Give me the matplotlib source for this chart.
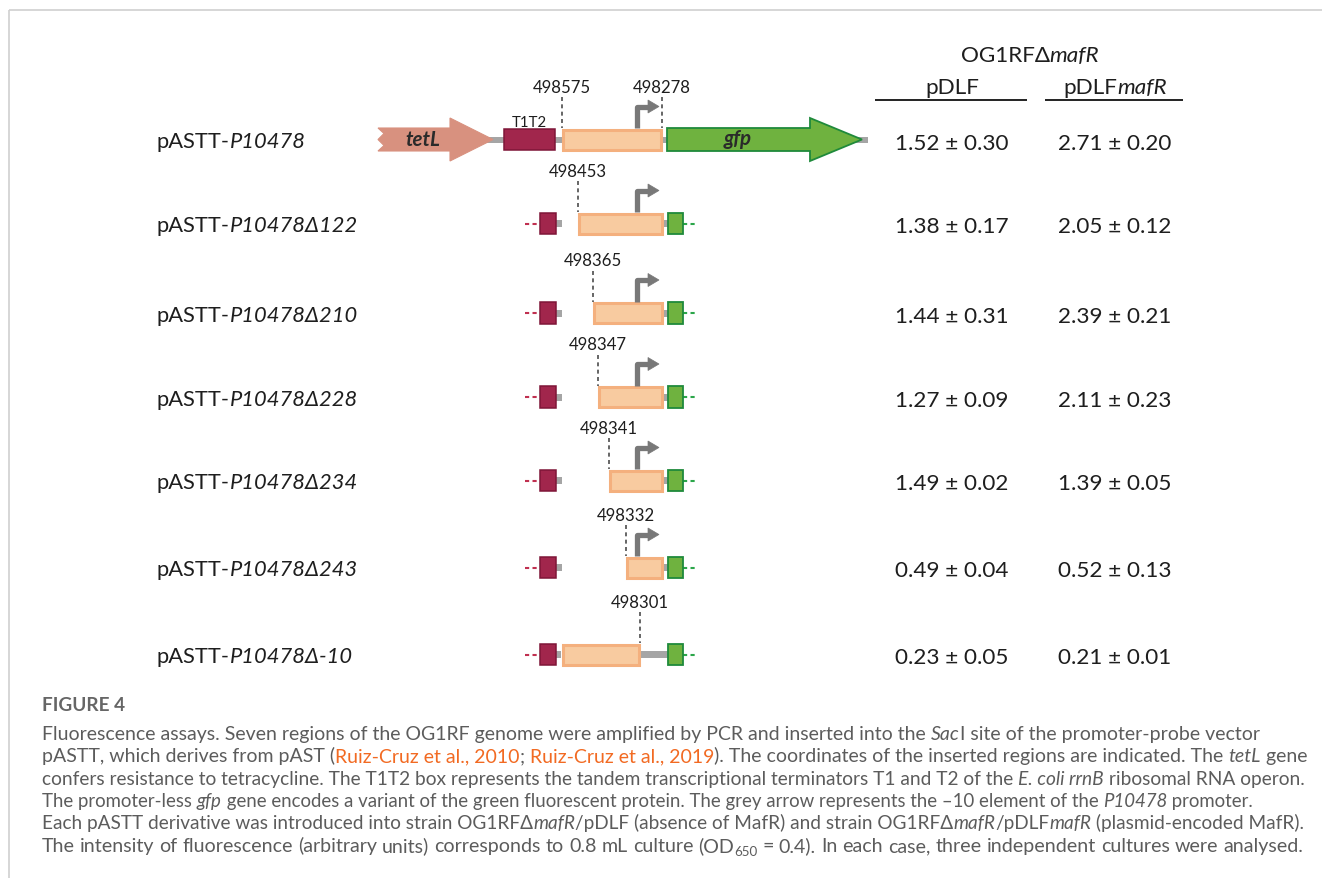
import matplotlib
matplotlib.use('Agg')
import matplotlib.pyplot as plt
from matplotlib.patches import Polygon, Rectangle

# ---------------- data ----------------
construct_names = ["P10478", "P10478Δ122", "P10478Δ210", "P10478Δ228",
                   "P10478Δ234", "P10478Δ243", "P10478Δ-10"]
coord_labels = [[498575, 498278], [498453], [498365], [498347],
                [498341], [498332], [498301]]
has_minus10 = [True, True, True, True, True, True, False]
pdlf_mean = [1.52, 1.38, 1.44, 1.27, 1.49, 0.49, 0.23]
pdlf_sd = [0.30, 0.17, 0.31, 0.09, 0.02, 0.04, 0.05]
pdlfmafr_mean = [2.71, 2.05, 2.39, 2.11, 1.39, 0.52, 0.21]
pdlfmafr_sd = [0.20, 0.12, 0.21, 0.23, 0.05, 0.13, 0.01]

# ---------------- layout (pixels) ----------------
W, H = 1322, 879
row_y = [140.5, 224.5, 314, 398, 481.5, 568.5, 655.5]
box_left = [561, 577, 592, 597, 608, 625, 561]
box_right = [662, 663, 663, 663, 663, 663, 640]
label_side = [['left', 'right'], ['left'], ['left'], ['left'], ['left'], ['left'], ['right']]
BH = 11.5

C_TET = '#D8917F'
C_T1 = '#A1264C'
C_T1E = '#7E1638'
C_OR = '#F8CBA0'
C_ORE = '#F4B07E'
C_GFP = '#6FB23F'
C_GFPE = '#1F8A3B'
C_GREY = '#A5A5A5'
C_ARR = '#787878'
C_TXT = '#1E1E1E'
C_CAP = '#5C5C5C'
C_LINK = '#F26A22'

fig = plt.figure(figsize=(13.22, 8.79), dpi=100)
ax = fig.add_axes([0, 0, 1, 1])
ax.set_xlim(0, W)
ax.set_ylim(H, 0)
ax.axis('off')
renderer = fig.canvas.get_renderer()

FAM = ['Lato', 'DejaVu Sans']


def measure(text, size, style='normal', weight='normal', family=FAM):
    t = ax.text(0, 0, '|' + text + '|', fontsize=size, style=style,
                weight=weight, family=family)
    w1 = t.get_window_extent(renderer).width
    t.set_text('||')
    w2 = t.get_window_extent(renderer).width
    t.remove()
    return w1 - w2


def run_width(segs, size, family=FAM, weight='normal'):
    tot = 0
    for s, o in segs:
        tot += measure(s, size * o.get('scale', 1), o.get('style', 'normal'),
                       o.get('weight', weight), family)
    return tot


def nspaces(segs):
    return sum(s.count(' ') for s, o in segs)


def draw_run(segs, x, y, size, color, ha='left', family=FAM, weight='normal', extra=0.0):
    w = run_width(segs, size, family, weight) + extra * nspaces(segs)
    if ha == 'center':
        x -= w / 2
    elif ha == 'right':
        x -= w
    for s, o in segs:
        sz = size * o.get('scale', 1)
        st = o.get('style', 'normal')
        wt = o.get('weight', weight)
        kw = dict(fontsize=sz, style=st, weight=wt, family=family,
                  color=o.get('color', color), va='baseline', ha='left')
        yy = y + o.get('dy', 0)
        if extra == 0:
            ax.text(x, yy, s, **kw)
            x += measure(s, sz, st, wt, family)
        else:
            words = s.split(' ')
            for i, wd in enumerate(words):
                if wd:
                    ax.text(x, yy, wd, **kw)
                    x += measure(wd, sz, st, wt, family)
                if i < len(words) - 1:
                    x += measure(' ', sz, st, wt, family) + extra


def fit_size(segs, target, family=FAM, weight='normal', ref=12.0):
    return ref * target / run_width(segs, ref, family, weight)


# ---------------- frame ----------------
ax.plot([9, W], [11, 11], color='#CFCFCF', lw=1.2, solid_capstyle='butt')
ax.plot([9, 9], [11, H], color='#CFCFCF', lw=1.2, solid_capstyle='butt')

# ---------------- diagram ----------------
I = {'style': 'italic'}
label_size = fit_size([("pASTT-", {}), ("P10478", I)], 148)
value_size = fit_size([("1.52 ± 0.30", {})], 113)
head_size = fit_size([("OG1RFΔ", {}), ("mafR", I)], 139)
coord_size = fit_size([("498575", {})], 58)
t1_size = fit_size([("T1T2", {})], 35)
gene_size = fit_size([("tetL", {'style': 'italic', 'weight': 'bold'})], 35)

for i, yc in enumerate(row_y):
    top, bot = yc - BH, yc + BH
    if i == 0:
        # backbone line
        ax.add_patch(Rectangle((480, yc - 3), 388, 6, color=C_GREY, zorder=1, lw=0))
        # tetL arrow with broken left edge
        tet = [(378, top), (450, top), (450, yc - 21.5), (493, yc), (450, yc + 21.5),
               (450, bot), (378, bot), (384, yc + 6), (378, yc), (384, yc - 6)]
        ax.add_patch(Polygon(tet, closed=True, fc=C_TET, ec=C_TET, lw=0.8, zorder=2))
        draw_run([("tetL", {'style': 'italic', 'weight': 'bold'})], 423, yc + 5.5,
                 gene_size, '#2A2A2A', ha='center')
        # T1T2 box
        ax.add_patch(Rectangle((503.7, top + 0.7), 51, 2 * BH - 1.4, fc=C_T1, ec=C_T1E,
                               lw=1.1, zorder=2))
        draw_run([("T1T2", {})], 529, top - 2, t1_size, C_TXT, ha='center')
        # gfp arrow
        gfp = [(667, top), (810, top), (810, yc - 21.5), (862, yc), (810, yc + 21.5),
               (810, bot), (667, bot)]
        ax.add_patch(Polygon(gfp, closed=True, fc=C_GFP, ec=C_GFPE, lw=1.3, zorder=2))
        draw_run([("gfp", {'style': 'italic', 'weight': 'bold'})], 738, yc + 4.5,
                 gene_size, '#2A2A2A', ha='center')
    else:
        # left: dotted red, T1T2 small box, grey stub
        ax.plot([525, 539], [yc, yc], color='#C03050', lw=1.5, ls=(0, (2, 1.6)),
                zorder=1, solid_capstyle='butt')
        ax.add_patch(Rectangle((539.7, top + 0.7), 16, 2 * BH - 1.4, fc=C_T1, ec=C_T1E,
                               lw=1.1, zorder=2))
        stub_end = box_left[i] if i == 6 else 562
        ax.add_patch(Rectangle((556, yc - 3.5), stub_end - 556, 7, color=C_GREY, lw=0, zorder=1))
        # right: grey stub, small gfp box, dotted green
        ax.add_patch(Rectangle((box_right[i], yc - 3.5), 667 - box_right[i] + 1, 7,
                               color=C_GREY, lw=0, zorder=1))
        ax.add_patch(Rectangle((667.7, top + 0.7), 15.6, 2 * BH - 1.4, fc=C_GFP, ec=C_GFPE,
                               lw=1.3, zorder=2))
        ax.plot([683, 697], [yc, yc], color='#2BA64A', lw=1.5, ls=(0, (2, 1.6)),
                zorder=1, solid_capstyle='butt')
    # insert (promoter region) box
    l, r = box_left[i], box_right[i]
    ax.add_patch(Rectangle((l + 1.5, top + 1.5), r - l - 3, 2 * BH - 3, fc=C_OR, ec=C_ORE,
                           lw=2.2, zorder=3))
    # -10 element bent arrow
    if has_minus10[i]:
        ya = top - 21.5
        ax.plot([636.5, 636.5, 650], [top, ya, ya], color=C_ARR, lw=3.8,
                solid_joinstyle='round', solid_capstyle='butt', zorder=4)
        ax.add_patch(Polygon([(648, ya - 6.5), (659, ya), (648, ya + 6.5)], closed=True,
                             fc=C_ARR, ec=C_ARR, lw=0.5, zorder=4))
    # coordinate labels with dashed guide lines
    for coord, side in zip(coord_labels[i], label_side[i]):
        xd = (l + 1) if side == 'left' else r
        ax.plot([xd, xd], [top - 31, top], color='#3C3C3C', lw=1.1, ls=(0, (2.6, 2.2)),
                zorder=4)
        draw_run([(str(coord), {})], xd, top - 36, coord_size, C_TXT, ha='center')
    # construct name
    draw_run([("pASTT-", {}), (construct_names[i], I)], 157, yc + 8, label_size, C_TXT)
    # values
    draw_run([(f"{pdlf_mean[i]:.2f} ± {pdlf_sd[i]:.2f}", {})], 952, yc + 9, value_size,
             C_TXT, ha='center')
    draw_run([(f"{pdlfmafr_mean[i]:.2f} ± {pdlfmafr_sd[i]:.2f}", {})], 1115, yc + 9,
             value_size, C_TXT, ha='center')

# headers
draw_run([("OG1RFΔ", {}), ("mafR", I)], 1030, 62.5, head_size, C_TXT, ha='center')
draw_run([("pDLF", {})], 952, 94, head_size, C_TXT, ha='center')
draw_run([("pDLF", {}), ("mafR", I)], 1115, 94, head_size, C_TXT, ha='center')
ax.plot([875, 1027], [101, 101], color='#222222', lw=1.4, solid_capstyle='butt')
ax.plot([1045, 1183], [101, 101], color='#222222', lw=1.4, solid_capstyle='butt')

# ---------------- caption ----------------
CAPX = 42
OR = {'color': C_LINK}
cap_lines = [
    [("Fluorescence assays. Seven regions of the OG1RF genome were amplified by PCR and inserted into the ", {}),
     ("Sac", I), ("I site of the promoter-probe vector", {})],
    [("pASTT, which derives from pAST (", {}), ("Ruiz-Cruz et al., 2010", OR), ("; ", {}),
     ("Ruiz-Cruz et al., 2019", OR),
     ("). The coordinates of the inserted regions are indicated. The ", {}), ("tetL", I), (" gene", {})],
    [("confers resistance to tetracycline. The T1T2 box represents the tandem transcriptional terminators T1 and T2 of the ", {}),
     ("E. coli rrnB", I), (" ribosomal RNA operon.", {})],
    [("The promoter-less ", {}), ("gfp", I),
     (" gene encodes a variant of the green fluorescent protein. The grey arrow represents the –10 element of the ", {}),
     ("P10478", I), (" promoter.", {})],
    [("Each pASTT derivative was introduced into strain OG1RFΔ", {}), ("mafR", I),
     ("/pDLF (absence of MafR) and strain OG1RFΔ", {}), ("mafR", I), ("/pDLF", {}), ("mafR", I),
     (" (plasmid-encoded MafR).", {})],
    [("The intensity of fluorescence (arbitrary units) corresponds to 0.8 mL culture (OD", {}),
     ("650", {'scale': 0.68, 'dy': 4}),
     (" = 0.4). In each case, three independent cultures were analysed.", {})],
]
cap_end = [1260, 1303, 1303, 1257, 1303, 1303]
cap_justify = [False, True, True, False, True, True]
cap_base = [740, 762.5, 785, 807, 829.5, 852]
CW = 'normal'

base = fit_size(cap_lines[5], cap_end[5] - CAPX, weight=CW)
for segs, xe, just, yb in zip(cap_lines, cap_end, cap_justify, cap_base):
    target = xe - CAPX
    wnat = run_width(segs, base, weight=CW)
    size, extra = base, 0.0
    if wnat > target:
        size = base * target / wnat
    elif just:
        extra = (target - wnat) / nspaces(segs)
    draw_run(segs, CAPX, yb, size, C_CAP, weight=CW, extra=extra)

fs = fit_size([("FIGURE 4", {})], 83, weight='bold')
draw_run([("FIGURE 4", {})], CAPX, 711, fs, '#666666', weight='bold')

fig.savefig('out.png', dpi=100)
